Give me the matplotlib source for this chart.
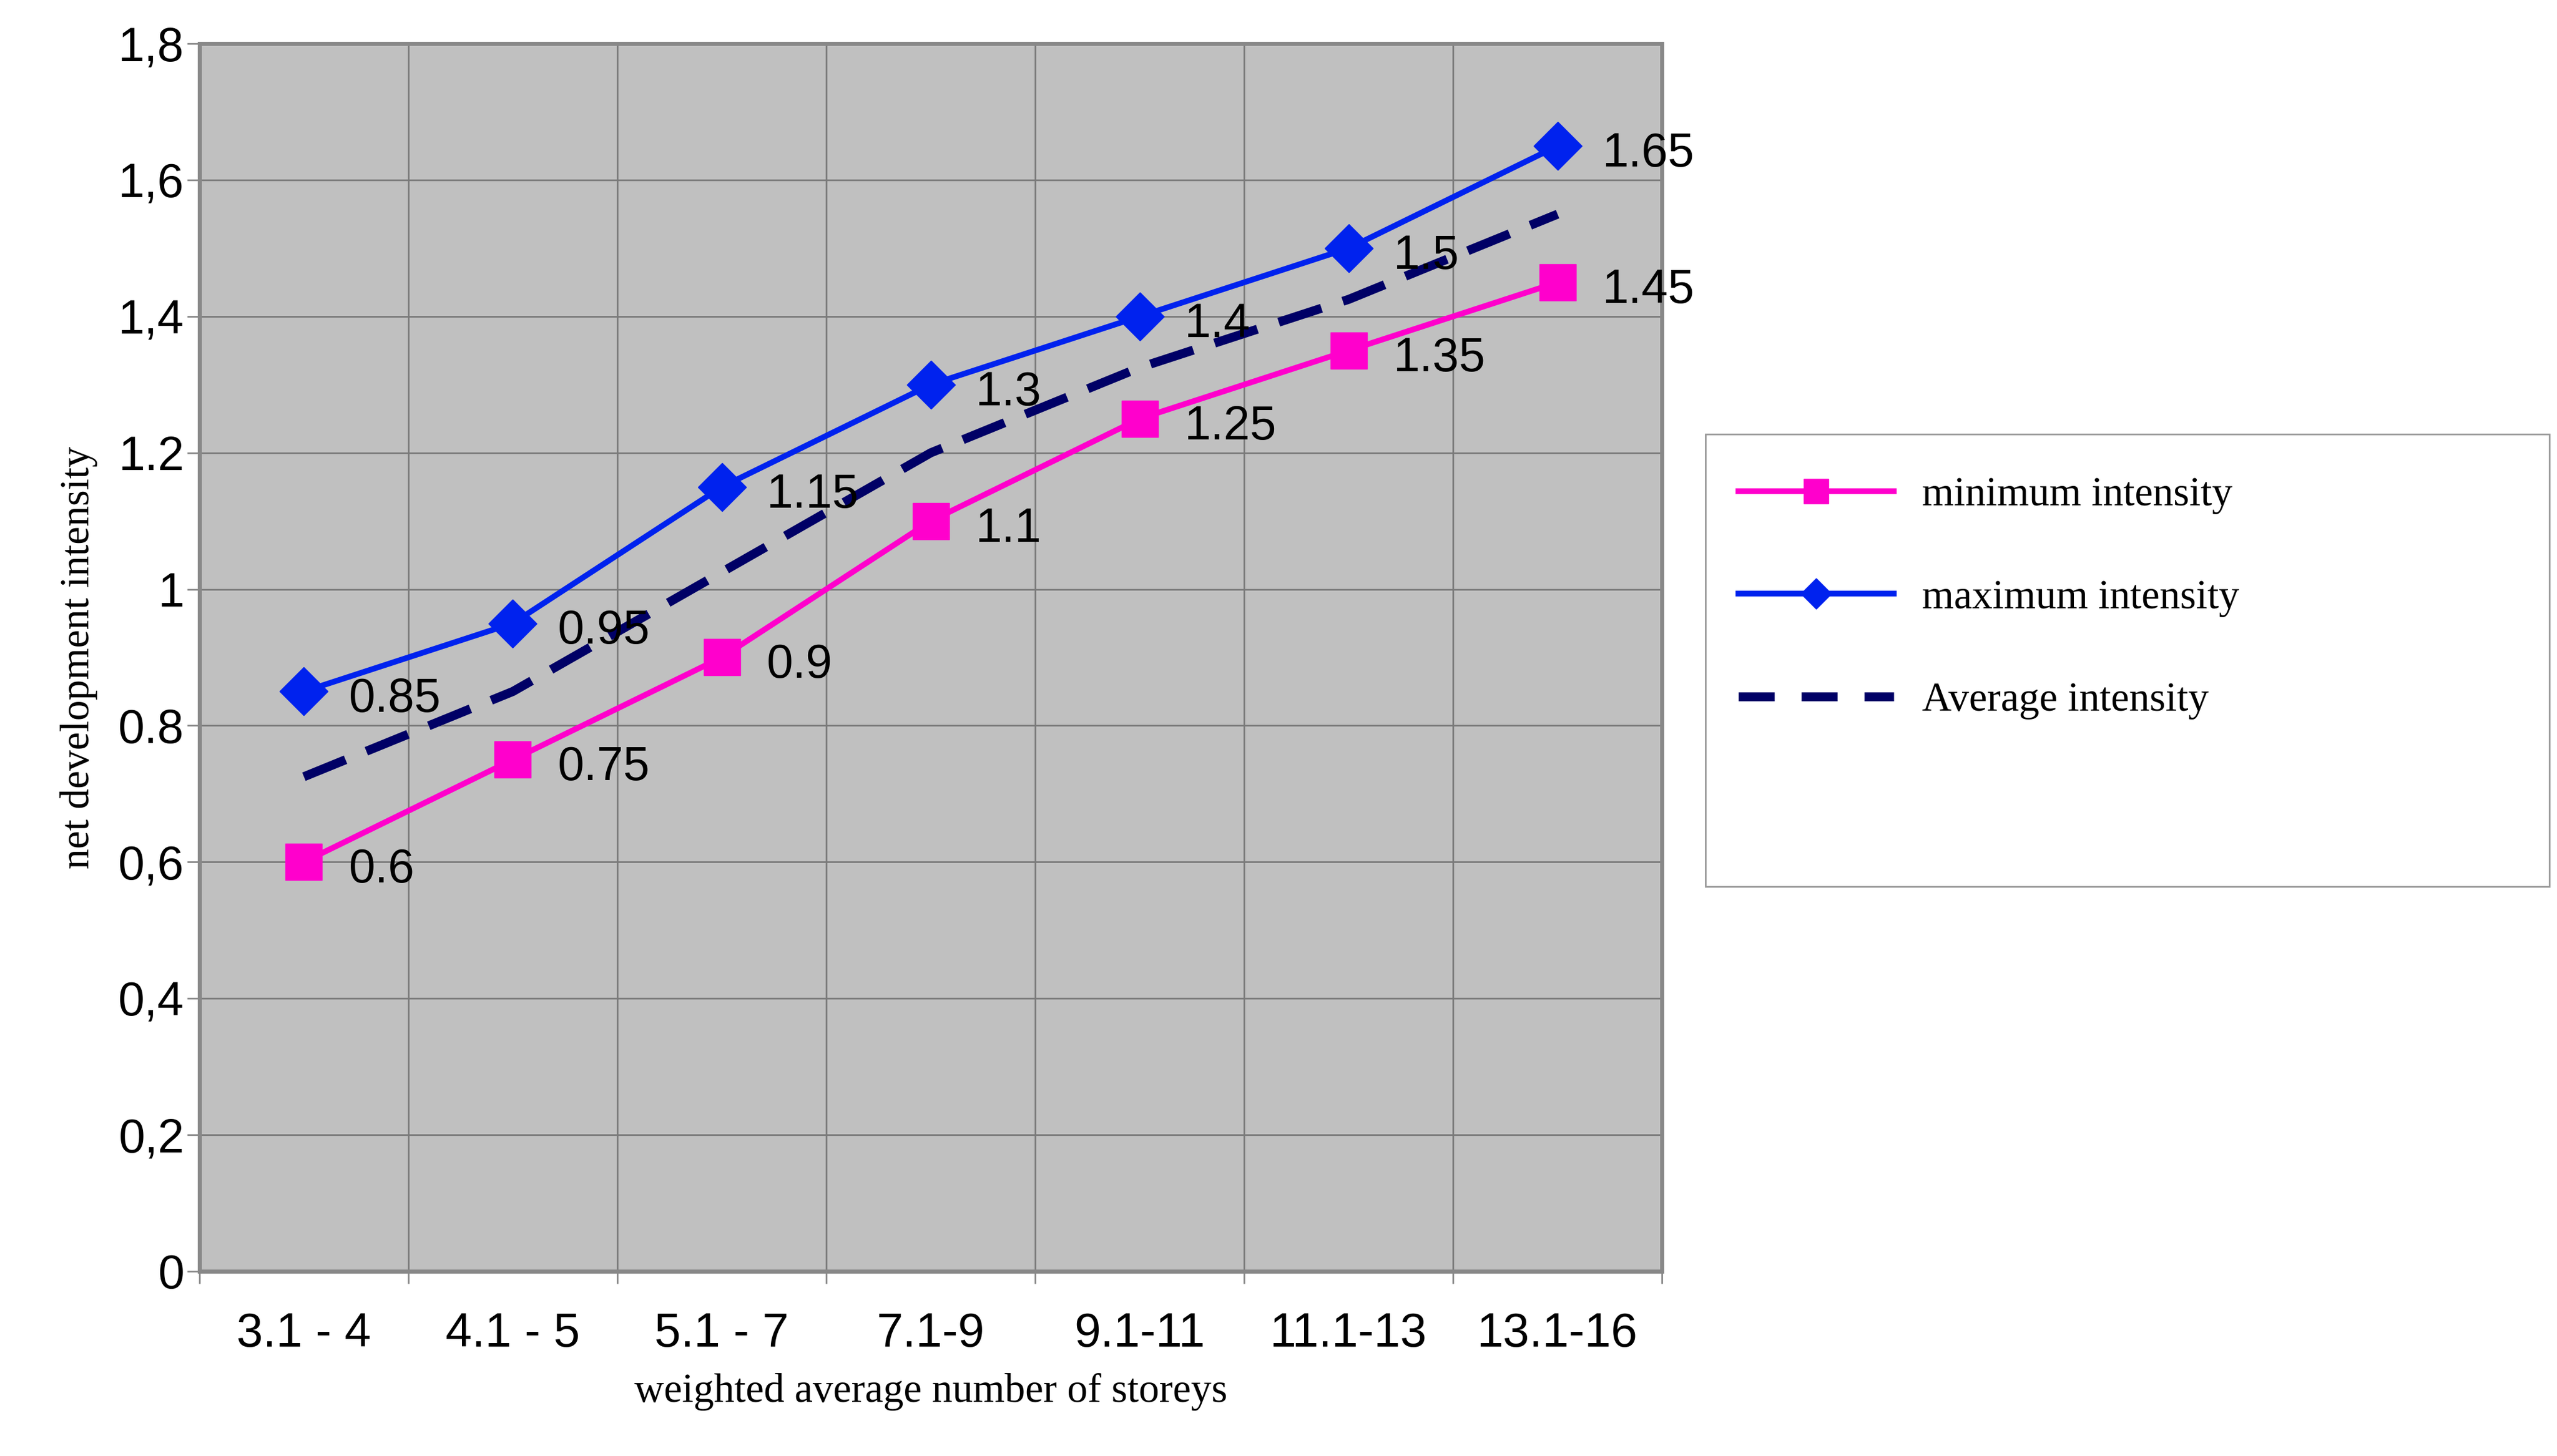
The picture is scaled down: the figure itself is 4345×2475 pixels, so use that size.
import matplotlib
matplotlib.use("Agg")
import matplotlib.pyplot as plt
from matplotlib.patches import Rectangle
import numpy as np

categories = ["3.1 - 4", "4.1 - 5", "5.1 - 7", "7.1-9", "9.1-11", "11.1-13", "13.1-16"]
min_vals = [0.6, 0.75, 0.9, 1.1, 1.25, 1.35, 1.45]
max_vals = [0.85, 0.95, 1.15, 1.3, 1.4, 1.5, 1.65]
avg_vals = [0.725, 0.85, 1.025, 1.2, 1.325, 1.425, 1.55]
ytick_vals = [0, 0.2, 0.4, 0.6, 0.8, 1.0, 1.2, 1.4, 1.6, 1.8]
ytick_labels = ["0", "0,2", "0,4", "0,6", "0.8", "1", "1.2", "1,4", "1,6", "1,8"]

plt.rcParams['font.family'] = ['Liberation Sans', 'DejaVu Sans']
fig = plt.figure(figsize=(43.45, 24.75), dpi=100)
ax = fig.add_axes([0.078, 0.127, 0.572, 0.843])
ax.set_facecolor("#c0c0c0")
x = np.arange(len(categories)) + 0.5

ax.plot(x, avg_vals, color="#000066", lw=11, dashes=(5, 2.5), zorder=3)
ax.plot(x, max_vals, color="#0022ee", lw=7, marker="D", ms=42, zorder=4)
ax.plot(x, min_vals, color="#ff00cc", lw=7, marker="s", ms=44, zorder=4)

for vals in (max_vals, min_vals):
    for xi, v in zip(x, vals):
        ax.annotate(f"{v:g}", (xi, v), xytext=(55, -10), textcoords="offset points",
                    fontsize=58, va="center", zorder=5)

ax.set_xlim(0, len(categories))
ax.set_ylim(0, 1.8)
ax.set_xticks(np.arange(len(categories) + 1))
ax.set_xticklabels([])
ax.set_xticks(x, minor=True)
ax.set_xticklabels(categories, minor=True, fontsize=58)
ax.tick_params(axis="x", which="minor", length=0, pad=50)
ax.tick_params(axis="x", which="major", length=15, width=2, color="#888888")
ax.set_yticks(ytick_vals)
ax.set_yticklabels(ytick_labels, fontsize=58)
ax.tick_params(axis="y", length=15, width=2, color="#888888")
ax.grid(True, which="major", color="#7a7a7a", lw=2)
ax.set_axisbelow(True)
for s in ax.spines.values():
    s.set_color("#888888")
    s.set_linewidth(5)

ax.set_xlabel("weighted average number of storeys", fontsize=50, family="Liberation Serif", labelpad=20)
ax.set_ylabel("net development intensity", fontsize=50, family="Liberation Serif", labelpad=25)

fig.patches.append(Rectangle((0.667, 0.391), 0.330, 0.311, transform=fig.transFigure,
                             facecolor="white", edgecolor="#999999", lw=2, zorder=0))
handles = [
    plt.Line2D([], [], color="#ff00cc", lw=7, marker="s", ms=30),
    plt.Line2D([], [], color="#0022ee", lw=7, marker="D", ms=26),
    plt.Line2D([], [], color="#000066", lw=11, dashes=(4, 3)),
]
leg = fig.legend(handles, ["minimum intensity", "maximum intensity", "Average intensity"],
                 loc="upper left", bbox_to_anchor=(0.667, 0.695), prop={"family": "Liberation Serif", "size": 50},
                 frameon=False, handlelength=3.8, labelspacing=1.6,
                 borderpad=0.3, handletextpad=0.7)
fig.savefig("out.png", dpi=100)
